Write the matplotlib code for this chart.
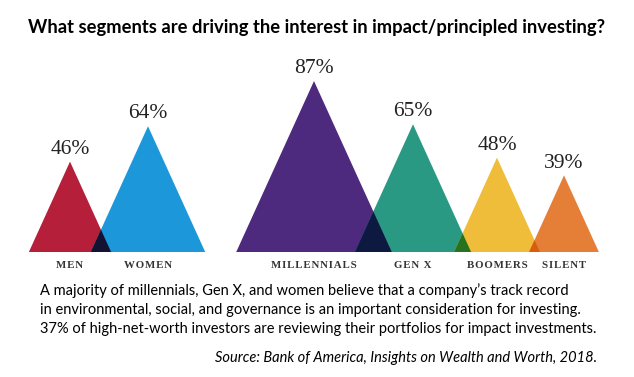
import matplotlib.pyplot as plt
from matplotlib.patches import Polygon
import numpy as np

# data
labels = ["MEN", "WOMEN", "MILLENNIALS", "GEN X", "BOOMERS", "SILENT"]
values = [46, 64, 87, 65, 48, 39]
colors = ["#B51F3A", "#1C98DA", "#4E2A7E", "#2A9984", "#F0BD3A", "#E57E36"]
centers = [70, 148, 314, 413, 497, 564]  # x position of each apex (px)

title = "What segments are driving the interest in impact/principled investing?"
body = ["A majority of millennials, Gen X, and women believe that a company\u2019s track record",
        "in environmental, social, and governance is an important consideration for investing.",
        "37% of high-net-worth investors are reviewing their portfolios for impact investments."]
source = "Source: Bank of America, Insights on Wealth and Worth, 2018."

W, H = 634, 377
base_px = 252          # baseline in px from top
px_per_pct = 1.965
half_ratio = 0.455     # half base width / height

fig = plt.figure(figsize=(W / 100, H / 100), dpi=100)
ax = fig.add_axes([0, 0, 1, 1])
ax.set_xlim(0, W)
ax.set_ylim((base_px - H) / px_per_pct, base_px / px_per_pct)
ax.axis("off")

def hex2rgb(c):
    return np.array([int(c[i:i + 2], 16) / 255 for i in (1, 3, 5)])

patches = []
for lab, v, c, x in zip(labels, values, colors, centers):
    hw = half_ratio * v * px_per_pct
    tri = Polygon([(x - hw, 0), (x, v), (x + hw, 0)], closed=True,
                  facecolor=c, edgecolor="none")
    ax.add_patch(tri)
    patches.append(tri)
    ax.text(x, v + 4, f"{v}%", ha="center", va="baseline",
            fontsize=15.5, family="Liberation Serif", color="#222222")
    # spaced-out capitals like the original
    ax.text(x, -6.8, "\u200a".join(lab), ha="center", va="center", fontsize=7.8,
            family=["Liberation Serif", "DejaVu Serif"], fontweight="bold",
            color="#333333")

# multiply-blended overlaps between neighbours
for i in range(len(values) - 1):
    v, x = values[i + 1], centers[i + 1]
    hw = half_ratio * v * px_per_pct
    mix = hex2rgb(colors[i]) * hex2rgb(colors[i + 1])
    ov = Polygon([(x - hw, 0), (x, v), (x + hw, 0)], closed=True,
                 facecolor=mix, edgecolor="none")
    ax.add_patch(ov)
    ov.set_clip_path(patches[i])

fig.text(0.5, 1 - 27 / H, title, ha="center", va="center", fontsize=13.2,
         fontweight="bold", family="Lato", color="black")
for k, line in enumerate(body):
    fig.text(40 / W, 1 - (291 + 19 * k) / H, line, ha="left", va="center",
             fontsize=10.5, family="Lato", color="black")
fig.text(597 / W, 1 - 358 / H, source, ha="right", va="center", fontsize=10.5,
         family="Lato", style="italic", color="black")

fig.savefig("out.png", dpi=100)
